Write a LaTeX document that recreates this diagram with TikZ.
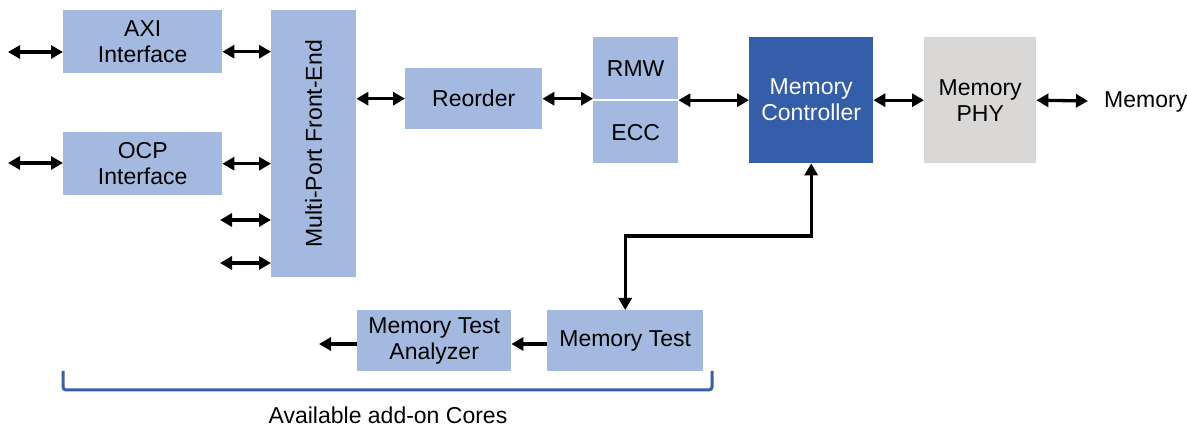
\documentclass[tikz,border=0pt]{standalone}
\usepackage{fontspec}
\setmainfont{Liberation Sans}
\usetikzlibrary{arrows.meta}
\definecolor{lightblk}{HTML}{A3B9DF}
\definecolor{darkblk}{HTML}{355EAA}
\definecolor{phygray}{HTML}{D9D8D6}
\definecolor{brk}{HTML}{3A5EA8}
\tikzset{
  blk/.style={fill=lightblk, draw=none, inner sep=0pt, anchor=north west,
    align=center, font=\fontsize{23}{26}\selectfont},
  link/.style={line width=3.3pt, {Triangle[length=12pt,width=13pt]}-{Triangle[length=12pt,width=13pt]}},
  oneway/.style={line width=3.3pt, -{Triangle[length=12pt,width=13pt]}},
  lbl/.style={font=\fontsize{23}{26}\selectfont, inner sep=0pt},
}
\begin{document}
\begin{tikzpicture}[x=1pt,y=-1pt]
\useasboundingbox (0,0) rectangle (1187,427);

% blocks
\node[blk, minimum width=159pt, minimum height=63pt] (axi) at (63,10) {AXI\\Interface};
\node[blk, minimum width=159pt, minimum height=63pt] (ocp) at (63,132) {OCP\\Interface};
\node[blk, minimum width=85pt, minimum height=267pt] (mpfe) at (271,10) {};
\node[lbl, rotate=90] at (mpfe.center) {Multi-Port Front-End};
\node[blk, minimum width=137pt, minimum height=61pt] (reo) at (405,68) {Reorder};
\node[blk, minimum width=85pt, minimum height=62pt] (rmw) at (593,37) {RMW};
\node[blk, minimum width=85pt, minimum height=62pt] (ecc) at (593,101) {ECC};
\node[blk, fill=darkblk, text=white, minimum width=124pt, minimum height=126pt] (mc) at (749,37) {Memory\\Controller};
\node[blk, fill=phygray, minimum width=112pt, minimum height=126pt] (phy) at (924,37) {Memory\\PHY};
\node[lbl, anchor=west] (mem) at (1104,102) {Memory};
\node[blk, minimum width=156pt, minimum height=61pt] (mt) at (547,310) {Memory Test};
\node[blk, minimum width=154pt, minimum height=61pt] (mta) at (357,310) {Memory Test\\Analyzer};

% free ends
\coordinate (axiin) at (8,52);
\coordinate (ocpin) at (8,163);
\coordinate (p3) at (220,220);
\coordinate (p4) at (220,263);
\coordinate (memend) at (1088,101);
\coordinate (out) at (319,344);
\coordinate (bend) at (0,236);

% connectors
\draw[link] (axiin) -- (axiin -| axi.west);
\draw[link] (ocpin) -- (ocpin -| ocp.west);
\draw[link] ([yshift=-10pt]axi.east) -- ([yshift=-10pt]axi.east -| mpfe.west);
\draw[link] (ocp.east) -- (ocp.east -| mpfe.west);
\draw[link] (p3) -- (p3 -| mpfe.west);
\draw[link] (p4) -- (p4 -| mpfe.west);
\draw[link] (reo.west -| mpfe.east) -- (reo.west);
\draw[link] (reo.east) -- (reo.east -| rmw.west);
\draw[link] (mc.west -| rmw.east) -- (mc.west);
\draw[link] (mc.east) -- (phy.west);
\draw[link] (phy.east) -- (memend);
\draw[link] (mc.south) -- (mc.south |- bend) -| (mt.north);
\draw[oneway] (mt.west |- out) -- (mta.east |- out);
\draw[oneway] (mta.west |- out) -- (out);

% bracket round the add-on cores
\draw[brk, line width=3pt, rounded corners=3pt] (63,371) -- (63,390) -- (712,390) -- (712,371);
\node[lbl] (cores) at (388,415) {Available add-on Cores};
\end{tikzpicture}
\end{document}
